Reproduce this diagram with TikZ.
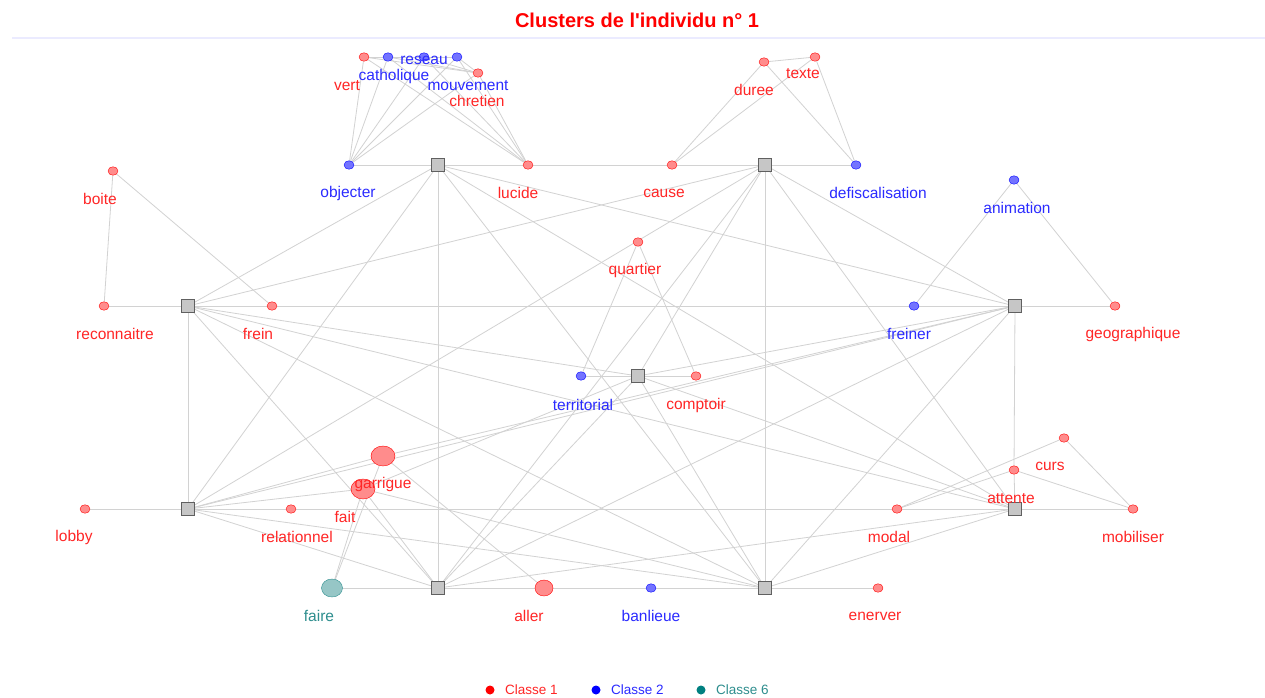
\documentclass[tikz,border=0pt]{standalone}
\usepackage{fontspec}
\setmainfont{Liberation Sans}
\usetikzlibrary{shapes.geometric,backgrounds}
\definecolor{cred}{HTML}{FF2626}
\definecolor{cblue}{HTML}{2B2BFF}
\definecolor{cteal}{HTML}{2E8E8E}
\definecolor{linkgray}{HTML}{D2D2D2}
\tikzset{
  hub/.style={rectangle,draw=gray!75!black,fill=gray!45,minimum size=13pt,inner sep=0pt},
  rdot/.style={ellipse,draw=red,fill=red!45,minimum width=10pt,minimum height=8.5pt,inner sep=0pt},
  bdot/.style={ellipse,draw=blue,fill=blue!55,minimum width=10pt,minimum height=8.5pt,inner sep=0pt},
  tdot/.style={ellipse,draw=cteal,fill=cteal!50,inner sep=0pt},
  rlab/.style={text=cred,font=\fontsize{15.5}{16}\selectfont,inner sep=0pt},
  blab/.style={text=cblue,font=\fontsize{15.5}{16}\selectfont,inner sep=0pt},
  tlab/.style={text=cteal,font=\fontsize{15.5}{16}\selectfont,inner sep=0pt},
  link/.style={draw=linkgray,line width=0.8pt},
  legtext/.style={font=\fontsize{13.5}{14}\selectfont,anchor=west,inner sep=0pt}
}
\begin{document}
\begin{tikzpicture}[x=1pt,y=-1pt]
  \useasboundingbox (0,0) rectangle (1265,698);

  \node[text=red,font=\bfseries\fontsize{20}{22}\selectfont] (title) at (637,20) {Clusters de l\textquotesingle individu n° 1};
  \draw[blue!8,line width=1.5pt] (12,38) -- (1265,38);

  \node[hub] (h1) at (438,165) {};
  \node[hub] (h2) at (765,165) {};
  \node[hub] (h3) at (188,306) {};
  \node[hub] (h4) at (1015,306) {};
  \node[hub] (h5) at (638,376) {};
  \node[hub] (h6) at (188,509) {};
  \node[hub] (h7) at (1015,509) {};
  \node[hub] (h8) at (438,588) {};
  \node[hub] (h9) at (765,588) {};

  \node[rdot] (vert) at (364,57) {};
  \node[bdot] (cath) at (388,57) {};
  \node[bdot] (reseau) at (424,57) {};
  \node[bdot] (mouv) at (457,57) {};
  \node[rdot] (chret) at (478,73) {};
  \node[bdot] (objecter) at (349,165) {};
  \node[rdot] (lucide) at (528,165) {};
  \node[rdot] (cause) at (672,165) {};
  \node[rdot] (duree) at (764,62) {};
  \node[rdot] (texte) at (815,57) {};
  \node[bdot] (defisc) at (856,165) {};
  \node[rdot] (boite) at (113,171) {};
  \node[bdot] (anim) at (1014,180) {};
  \node[rdot] (quartier) at (638,242) {};
  \node[rdot] (reconn) at (104,306) {};
  \node[rdot] (frein) at (272,306) {};
  \node[bdot] (freiner) at (914,306) {};
  \node[rdot] (geo) at (1115,306) {};
  \node[bdot] (territ) at (581,376) {};
  \node[rdot] (comptoir) at (696,376) {};
  \node[rdot,minimum width=24pt,minimum height=20pt] (garrigue) at (383,456) {};
  \node[rdot,minimum width=24pt,minimum height=20pt] (fait) at (363,489) {};
  \node[rdot] (lobby) at (85,509) {};
  \node[rdot] (relat) at (291,509) {};
  \node[rdot] (curs) at (1064,438) {};
  \node[rdot] (attente) at (1014,470) {};
  \node[rdot] (modal) at (897,509) {};
  \node[rdot] (mobil) at (1133,509) {};
  \node[tdot,minimum width=21pt,minimum height=18pt] (faire) at (332,588) {};
  \node[rdot,minimum width=18pt,minimum height=16pt] (aller) at (544,588) {};
  \node[bdot] (banlieue) at (651,588) {};
  \node[rdot] (enerver) at (878,588) {};

  \begin{scope}[on background layer]
    \fill[white] (0,0) rectangle (1265,698);
    \foreach \a/\b in {vert/cath,cath/reseau,reseau/mouv,vert/chret,cath/chret,reseau/chret,mouv/chret,
      objecter/vert,objecter/cath,objecter/reseau,objecter/mouv,objecter/chret,
      lucide/vert,lucide/cath,lucide/reseau,lucide/mouv,lucide/chret,
      objecter/h1,h1/lucide,lucide/cause,cause/h2,h2/defisc,
      duree/texte,cause/duree,cause/texte,defisc/duree,defisc/texte,
      boite/reconn,boite/frein,reconn/h3,h3/frein,frein/freiner,freiner/h4,h4/geo,anim/freiner,anim/geo,
      quartier/territ,quartier/comptoir,territ/h5,h5/comptoir,
      lobby/h6,h6/relat,relat/modal,modal/h7,h7/mobil,attente/h7,h4/attente,
      curs/modal,curs/mobil,attente/modal,attente/mobil,
      faire/h8,h8/aller,aller/banlieue,banlieue/h9,h9/enerver,
      garrigue/faire,fait/faire,garrigue/aller,fait/h8,garrigue/h6,fait/h6,garrigue/h4,fait/h5,fait/h9,
      h1/h3,h1/h4,h1/h6,h1/h7,h1/h8,h1/h9,
      h2/h3,h2/h4,h2/h5,h2/h6,h2/h7,h2/h8,h2/h9,
      h3/h5,h3/h6,h3/h7,h3/h8,h3/h9,
      h4/h5,h4/h6,h4/h8,h4/h9,
      h5/h7,h5/h8,h5/h9,
      h6/h8,h6/h9,h7/h8,h7/h9}
      \draw[link] (\a) -- (\b);
  \end{scope}

  \node[rlab] (lvert) at (347,86) {vert};
  \node[blab] (lcath) at (394,76) {catholique};
  \node[blab] (lreseau) at (424,60) {reseau};
  \node[blab] (lmouv) at (468,86) {mouvement};
  \node[rlab] (lchret) at (477,101) {chretien};
  \node[blab] (lobjecter) at (348,193) {objecter};
  \node[rlab] (llucide) at (518,193) {lucide};
  \node[rlab] (lcause) at (664,193) {cause};
  \node[rlab] (lduree) at (754,90) {duree};
  \node[rlab] (ltexte) at (803,74) {texte};
  \node[blab] (ldefisc) at (878,193) {defiscalisation};
  \node[rlab] (lboite) at (100,199) {boite};
  \node[blab] (lanim) at (1017,208) {animation};
  \node[rlab] (lquartier) at (635,270) {quartier};
  \node[rlab] (lreconn) at (115,334) {reconnaitre};
  \node[rlab] (lfrein) at (258,334) {frein};
  \node[blab] (lfreiner) at (909,334) {freiner};
  \node[rlab] (lgeo) at (1133,334) {geographique};
  \node[blab] (lterrit) at (583,405) {territorial};
  \node[rlab] (lcomptoir) at (696,405) {comptoir};
  \node[rlab] (lgarrigue) at (383,484) {garrigue};
  \node[rlab] (lfait) at (345,517) {fait};
  \node[rlab] (llobby) at (74,537) {lobby};
  \node[rlab] (lrelat) at (297,537) {relationnel};
  \node[rlab] (lcurs) at (1050,466) {curs};
  \node[rlab] (lattente) at (1011,499) {attente};
  \node[rlab] (lmodal) at (889,537) {modal};
  \node[rlab] (lmobil) at (1133,537) {mobiliser};
  \node[tlab] (lfaire) at (319,616) {faire};
  \node[rlab] (laller) at (529,616) {aller};
  \node[blab] (lbanlieue) at (651,616) {banlieue};
  \node[rlab] (lenerver) at (875,616) {enerver};

  \fill[red] (490,690) circle (4.5pt);
  \node[legtext,text=cred] (leg1) at (505,690) {Classe 1};
  \fill[blue] (596,690) circle (4.5pt);
  \node[legtext,text=cblue] (leg2) at (611,690) {Classe 2};
  \fill[teal] (701,690) circle (4.5pt);
  \node[legtext,text=cteal] (leg6) at (716,690) {Classe 6};
\end{tikzpicture}
\end{document}
